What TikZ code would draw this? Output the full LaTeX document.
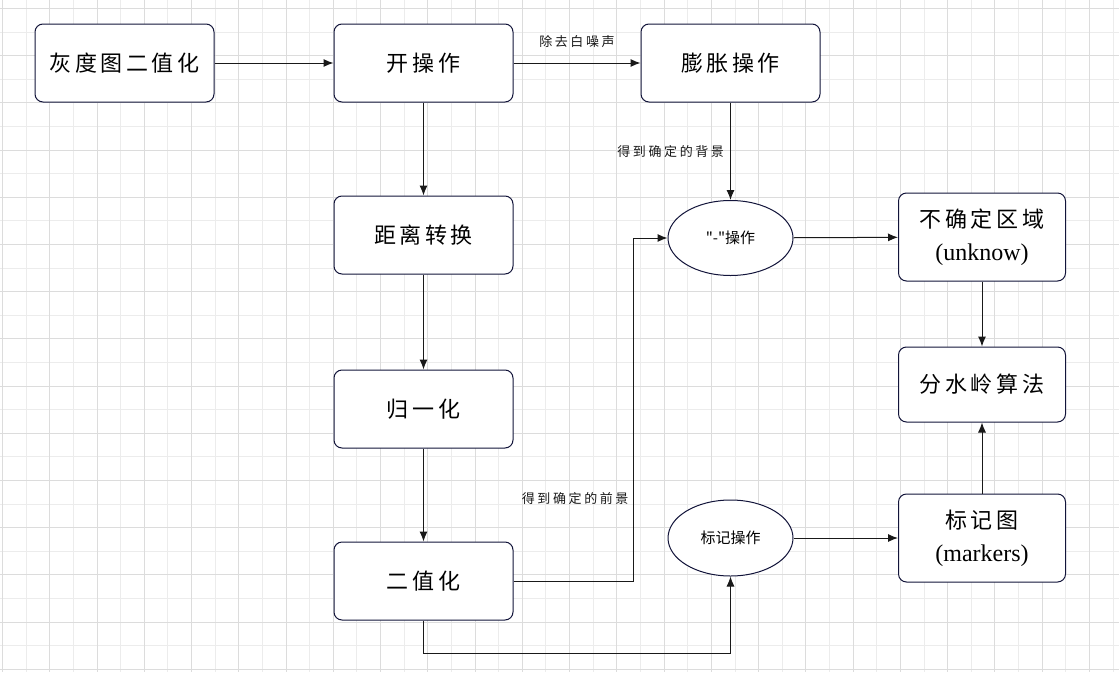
\documentclass[tikz,border=0pt]{standalone}
\usepackage{fontspec}
\setmainfont{Liberation Serif}
\newfontfamily\cjk{Noto Sans CJK SC}
\newfontfamily\cjkwide[LetterSpace=16]{Noto Sans CJK SC}
\newfontfamily\cjklab[LetterSpace=20]{Noto Sans CJK SC}
\usetikzlibrary{shapes.geometric, arrows.meta}

\definecolor{boxline}{RGB}{18,20,58}
\definecolor{gridminor}{RGB}{236,236,236}
\definecolor{gridmajor}{RGB}{220,220,220}

\tikzset{
    stepbox/.style={draw=boxline, line width=1pt, fill=white, rounded corners=8pt,
        align=center, minimum width=179pt, minimum height=78pt, inner sep=0pt,
        font=\fontsize{22}{33}\cjkwide},
    sidebox/.style={stepbox, minimum width=167pt, minimum height=88pt},
    opellipse/.style={draw=boxline, line width=1pt, fill=white, ellipse,
        minimum width=125pt, minimum height=76pt, inner sep=0pt,
        font=\fontsize{15}{18}\cjk},
    flow/.style={draw=black!90, line width=1pt, -{Latex[length=10pt, width=8pt]}},
    edgelabel/.style={font=\fontsize{13}{15}\cjklab, text=black!90, inner sep=0pt}
}

\begin{document}
\begin{tikzpicture}[x=1pt, y=-1pt]
    \useasboundingbox (0, 0) rectangle (1119, 672);
    \fill[white] (0, 0) rectangle (1119, 672);
    % background grid
    \foreach \i in {1,3,...,47}
        \draw[gridminor, line width=1pt] (2.5+23.63*\i, 0) -- (2.5+23.63*\i, 672);
    \foreach \j in {1,3,...,27}
        \draw[gridminor, line width=1pt] (0, 8.5+23.6*\j) -- (1119, 8.5+23.6*\j);
    \foreach \i in {0,2,...,46}
        \draw[gridmajor, line width=1pt] (2.5+23.63*\i, 0) -- (2.5+23.63*\i, 672);
    \foreach \j in {0,2,...,28}
        \draw[gridmajor, line width=1pt] (0, 8.5+23.6*\j) -- (1119, 8.5+23.6*\j);

    % left and middle column
    \node[stepbox] (huidu) at (124.5, 63) {灰度图二值化};
    \node[stepbox] (kai) at (423.5, 63) {开操作};
    \node[stepbox] (pengzhang) at (730.5, 63) {膨胀操作};
    \node[stepbox] (juli) at (423.5, 235) {距离转换};
    \node[stepbox] (guiyi) at (423.5, 409) {归一化};
    \node[stepbox] (erzhi) at (423.5, 581) {二值化};

    % operations
    \node[opellipse, minimum height=75pt] (minus) at (730.5, 238) {"-"操作};
    \node[opellipse] (biaoji) at (730.5, 538) {标记操作};

    % right column
    \node[sidebox] (buqueding) at (982, 237)
        {不确定区域\\{\rmfamily\fontsize{24}{33}\selectfont(unknow)}};
    \node[sidebox, minimum height=75pt] (fenshuiling) at (982, 384.5) {分水岭算法};
    \node[sidebox] (biaojitu) at (982, 538)
        {标记图\\{\rmfamily\fontsize{24}{33}\selectfont(markers)}};

    \coordinate (fgturn) at (633, 581);
    \coordinate (bottomturn) at (423.5, 653);

    \draw[flow] (huidu) -- (kai);
    \draw[flow] (kai) -- node[edgelabel, above=15pt] {除去白噪声} (pengzhang);
    \draw[flow] (pengzhang) -- node[edgelabel, left=6pt] {得到确定的背景} (minus);
    \draw[flow] (kai) -- (juli);
    \draw[flow] (juli) -- (guiyi);
    \draw[flow] (guiyi) -- (erzhi);
    \draw[flow] (erzhi.east) -- (fgturn)
        |- node[edgelabel, left=4pt, pos=0.12] {得到确定的前景} (minus.west);
    \draw[flow] (erzhi.south) -- (bottomturn) -| (biaoji.south);
    \draw[flow] (minus) -- (buqueding);
    \draw[flow] (biaoji) -- (biaojitu);
    \draw[flow] (buqueding) -- (fenshuiling);
    \draw[flow] (biaojitu) -- (fenshuiling);
\end{tikzpicture}
\end{document}
